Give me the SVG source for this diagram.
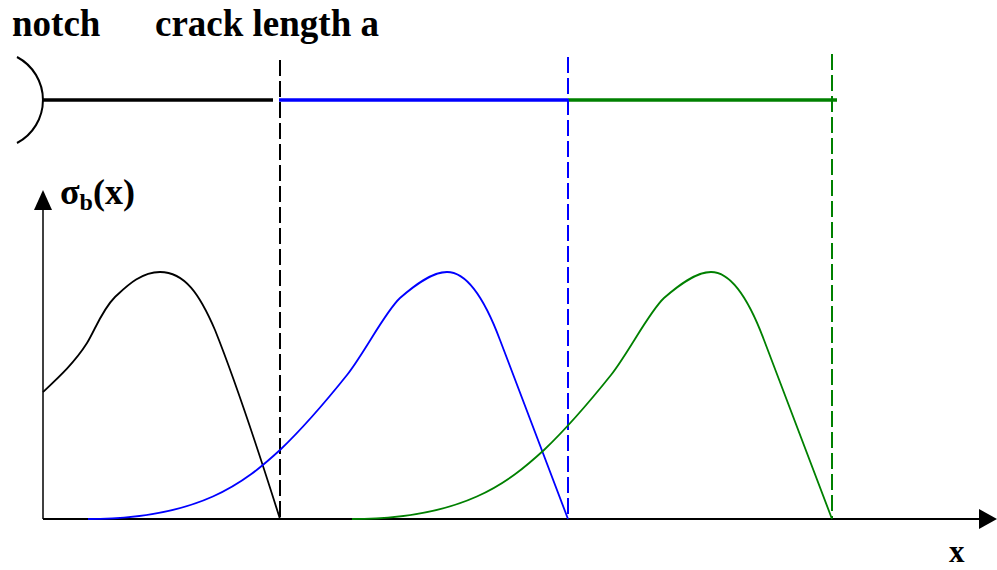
<svg xmlns="http://www.w3.org/2000/svg" width="997" height="570" viewBox="0 0 997 570">
<style>
.t{font-family:"Liberation Serif","Times New Roman",serif;font-weight:bold;fill:#000}
.curve{fill:none;stroke-width:1.8;stroke-linejoin:round}
.dash{fill:none;stroke-width:2;stroke-dasharray:16,5}
.crack{fill:none;stroke-width:3.5}
</style>
<rect width="997" height="570" fill="#fff"/>
<g id="labels">
<text class="t" x="12" y="36" font-size="37">notch</text>
<text class="t" x="155" y="36" font-size="37">crack length a</text>
<text class="t" x="60" y="204" font-size="36">σ<tspan font-size="24" dy="6">b</tspan><tspan dy="-6">(x)</tspan></text>
<text class="t" x="949" y="562" font-size="31">x</text>
</g>
<g id="notch">
<path d="M17,57 A48.6,48.6 0 0 1 17,143" fill="none" stroke="#000" stroke-width="2"/>
</g>
<g id="cracks">
<line class="crack" x1="43" y1="100" x2="273" y2="100" stroke="#000"/>
<line class="crack" x1="279" y1="100" x2="568" y2="100" stroke="#0000ff"/>
<line class="crack" x1="568" y1="100" x2="837" y2="100" stroke="#008000"/>
</g>
<g id="markers">
<line class="dash" x1="280" y1="60" x2="280" y2="519" stroke="#000"/>
<line class="dash" x1="568" y1="57" x2="568" y2="519" stroke="#0000ff"/>
<line class="dash" x1="832" y1="54" x2="832" y2="519" stroke="#008000"/>
</g>
<g id="axes">
<line x1="43" y1="519" x2="43" y2="205" stroke="#000" stroke-width="1.5"/>
<polygon points="43,190 34,210 52,210" fill="#000"/>
<line x1="43" y1="519" x2="982" y2="519" stroke="#000" stroke-width="2"/>
<polygon points="997,519 979,509 979,529" fill="#000"/>
</g>
<g id="curves">
<path class="curve" stroke="#000" d="M43,392 C60,376 75,362 87,343 C95,330 102,310 115,297 C125,288 140,272 160,272 C185,272 200,295 215,330 C235,380 262,462 280,519"/>
<path id="blueCurve" class="curve" stroke="#0000ff" d="M88,519 C200,519 245,482 280,450 C302,429 327,400 347,375 C365,352 385,312 400,298 C415,285 432,272 447,272 C468,272 485,300 500,340 L568,519"/>
<path class="curve" stroke="#008000" transform="translate(264,0)" d="M88,519 C200,519 245,482 280,450 C302,429 327,400 347,375 C365,352 385,312 400,298 C415,285 432,272 447,272 C468,272 485,300 500,340 L568,519"/>
</g>
</svg>
